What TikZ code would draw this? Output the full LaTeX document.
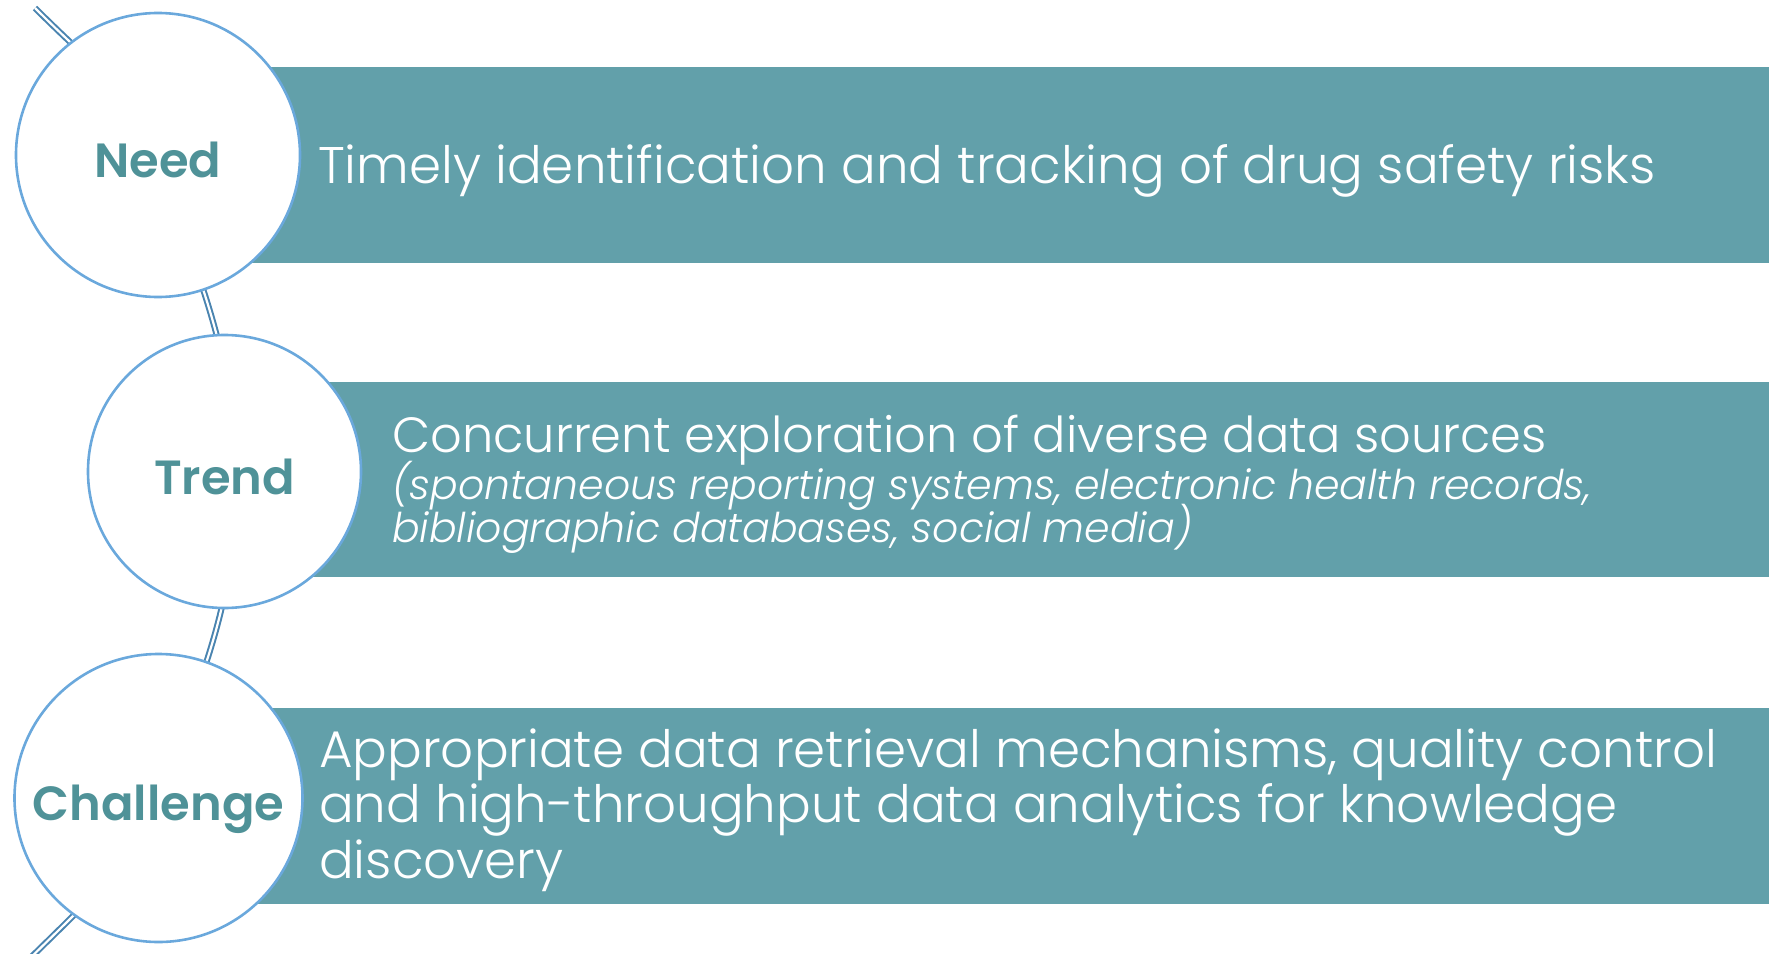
\documentclass[tikz,border=0pt]{standalone}
\usepackage{fontspec}
\setmainfont{Poppins}
\newfontfamily\bandfont{Poppins}[UprightFont=* Light, ItalicFont=* Light Italic]
\newfontfamily\labelfont{Poppins SemiBold}
\definecolor{bandteal}{HTML}{62A0AA}
\definecolor{labelteal}{HTML}{4F9298}
\definecolor{ringblue}{HTML}{6AA8DC}
\definecolor{linkblue}{HTML}{4A84B0}
\begin{document}
\begin{tikzpicture}[x=1pt,y=-1pt,
  band/.style={fill=bandteal, draw=none},
  ring/.style={circle, draw=ringblue, line width=2.6pt, fill=white,
    text=labelteal, font={\labelfont\fontsize{48}{56}\selectfont},
    text height=45pt, text depth=0pt, inner sep=0pt},
  link/.style={draw=linkblue, double=white, line width=2pt, double distance=2.2pt},
  bandtext/.style={text=white, anchor=base west, align=left, inner sep=0pt,
    font={\bandfont\fontsize{51.5}{55.5}\selectfont\lineskiplimit=-100pt}}]
\useasboundingbox (0,0) rectangle (1769,953);

% coloured bands behind the circles
\fill[band] (158,67) rectangle (1769,263);
\fill[band] (224,382) rectangle (1769,577);
\fill[band] (158,708) rectangle (1769,904);

% circle positions
\coordinate (cneed) at (158,155);
\coordinate (ctrend) at (224.5,471.5);
\coordinate (cchal) at (158.5,798);
\coordinate (top) at (35,8);
\coordinate (bottom) at (20,968);

% double connector running through the circles
\draw[link] (top) .. controls (95,68) and (150,110) .. (cneed)
  .. controls (185,250) and (250,380) .. (ctrend)
  .. controls (254,573) and (189,703) .. (cchal)
  .. controls (150,843) and (110,880) .. (bottom);

% circles with their labels
\node[ring, minimum size=284pt] (need) at (cneed) {Need};
\node[ring, minimum size=273pt] (trend) at (ctrend) {Trend};
\node[ring, minimum size=288pt] (chal) at (cchal) {Challenge};

% band texts (multi-line nodes sit on the baseline of their last line)
\node[bandtext] (t1) at (318,183) {Timely identification and tracking of drug safety risks};
\node[bandtext, font={\bandfont\fontsize{49.5}{55.5}\selectfont}] (t2) at (392,452)
  {Concurrent exploration of diverse data sources};
\node[bandtext, font={\bandfont\itshape\fontsize{41}{43}\selectfont\lineskiplimit=-100pt}] (t2b) at (392,542)
  {(spontaneous reporting systems, electronic health records,\\bibliographic databases, social media)};
\node[bandtext] (t3) at (319,878) {Appropriate data retrieval mechanisms, quality control\\and high-throughput data analytics for knowledge\\discovery};
\end{tikzpicture}
\end{document}
